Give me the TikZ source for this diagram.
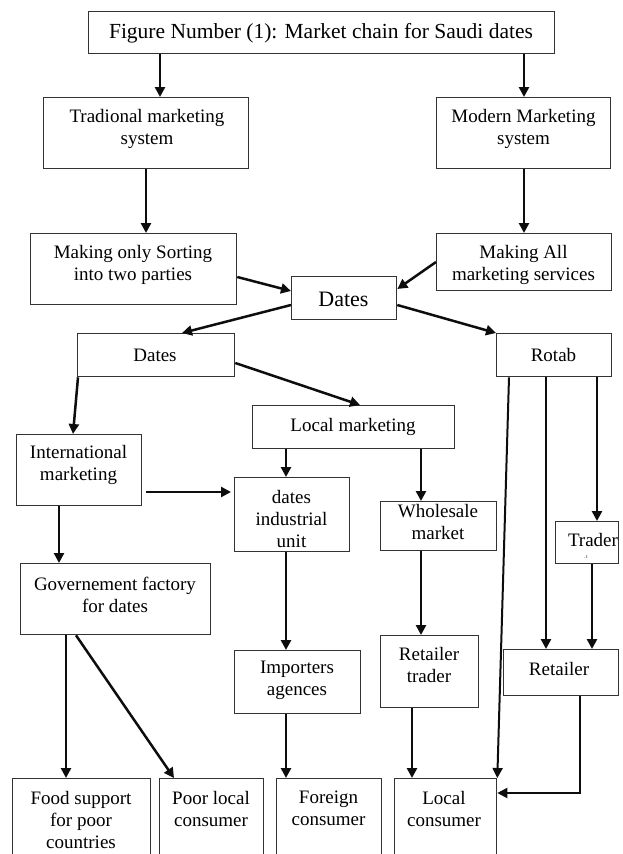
\documentclass[tikz,border=0pt]{standalone}
\usepackage{fontspec}
\setmainfont{Liberation Serif}
\usetikzlibrary{arrows.meta}
\begin{document}
\begin{tikzpicture}[x=1pt,y=-1pt,
  box/.style={draw=black!80, line width=1.3pt, inner sep=0pt, anchor=north west},
  txt/.style={align=center, inner sep=0pt, text=black, font=\fontsize{19}{22}\selectfont},
  arr/.style={draw=black!95, line width=2.5pt, -{Triangle[length=10pt,width=10pt]}}]
\useasboundingbox (0,0) rectangle (623,854);
\clip (0,0) rectangle (623,854);
% boxes
\node[box, minimum width=466, minimum height=42] (title) at (88,11) {};
\node[box, minimum width=205, minimum height=71] (trad) at (43,97) {};
\node[box, minimum width=174, minimum height=71] (modern) at (436,97) {};
\node[box, minimum width=206, minimum height=71] (sort) at (30,233) {};
\node[box, minimum width=175, minimum height=57] (allsvc) at (436,233) {};
\node[box, minimum width=105, minimum height=43] (dates) at (291,276) {};
\node[box, minimum width=157, minimum height=43] (dates2) at (77,333) {};
\node[box, minimum width=115, minimum height=43] (rotab) at (496,333) {};
\node[box, minimum width=202, minimum height=43] (local) at (252,405) {};
\node[box, minimum width=125, minimum height=71] (intl) at (16,434) {};
\node[box, minimum width=115, minimum height=74] (ind) at (234,477) {};
\node[box, minimum width=116, minimum height=49] (whole) at (380,501) {};
\node[box, minimum width=63, minimum height=42] (trader) at (555,521) {};
\node[box, minimum width=190, minimum height=71] (gov) at (20,563) {};
\node[box, minimum width=126, minimum height=63] (imp) at (234,650) {};
\node[box, minimum width=98, minimum height=72] (rtrader) at (380,635) {};
\node[box, minimum width=115, minimum height=46] (retailer) at (503,649) {};
\node[box, minimum width=138, minimum height=100] (food) at (12,778) {};
\node[box, minimum width=104, minimum height=100] (poor) at (159,778) {};
\node[box, minimum width=105, minimum height=100] (foreign) at (276,778) {};
\node[box, minimum width=102, minimum height=100] (lcons) at (394,778) {};
% texts
\node[txt, font=\fontsize{21.5}{24}\selectfont] (title-t) at (321,33.5) {Figure Number (1): Market chain for Saudi dates};
\node[txt] (trad-t) at (147,128.5) {Tradional marketing\\system};
\node[txt] (modern-t) at (523.5,128.5) {Modern Marketing\\system};
\node[txt] (sort-t) at (133,265) {Making only Sorting\\into two parties};
\node[txt] (allsvc-t) at (523.5,265) {Making All\\marketing services};
\node[txt, font=\fontsize{22}{24}\selectfont] (dates-t) at (343.5,299) {Dates};
\node[txt] (dates2-t) at (155,355) {Dates};
\node[txt] (rotab-t) at (553.5,355) {Rotab};
\node[txt] (local-t) at (353,427) {Local marketing};
\node[txt] (intl-t) at (78.5,464.5) {International\\marketing};
\node[txt] (ind-t) at (291.5,519) {dates\\industrial\\unit};
\node[txt] (whole-t) at (438,522) {Wholesale\\market};
\node[txt] (trader-t) at (593,540) {Trader};
\node[txt, font=\fontsize{5}{6}\selectfont] (trader-m) at (586,557) {.\,t};
\node[txt] (gov-t) at (115,594.5) {Governement factory\\for dates};
\node[txt] (imp-t) at (297,680.5) {Importers\\agences};
\node[txt] (rtrader-t) at (429,665) {Retailer\\trader};
\node[txt] (retailer-t) at (559,668.5) {Retailer};
\node[txt] (food-t) at (81,820) {Food support\\for poor\\countries};
\node[txt] (poor-t) at (211,808.5) {Poor local\\consumer};
\node[txt] (foreign-t) at (328.5,808.5) {Foreign\\consumer};
\node[txt] (lcons-t) at (444,808.5) {Local\\consumer};
% connectors
\draw[arr] (title.south -| 160,0) -- (trad.north -| 160,0);
\draw[arr] (title.south -| 524,0) -- (modern.north -| 524,0);
\draw[arr] (trad.south -| 146,0) -- (sort.north -| 146,0);
\draw[arr] (modern.south -| 524,0) -- (allsvc.north -| 524,0);
\draw[arr] (sort.east |- 0,277) -- (dates.west |- 0,291);
\draw[arr] (allsvc.west |- 0,262) -- (dates.east |- 0,289);
\draw[arr] (dates.west |- 0,305) -- (dates2.north -| 182,0);
\draw[arr] (dates.east |- 0,305) -- (rotab.north west);
\draw[arr] (dates2.south -| 78,0) -- (intl.north -| 73,0);
\draw[arr] (dates2.east |- 0,363) -- (local.north -| 360,0);
\draw[arr, line width=2pt] (rotab.south -| 509,0) -- (lcons.north east);
\draw[arr] (rotab.south -| 546,0) -- (retailer.north -| 546,0);
\draw[arr] (rotab.south -| 597,0) -- (trader.north -| 597,0);
\draw[arr] (local.south -| 286,0) -- (ind.north -| 286,0);
\draw[arr] (local.south -| 421,0) -- (whole.north -| 421,0);
\draw[arr, shorten <=4pt, shorten >=3pt] (intl.east |- 0,492) -- (ind.west |- 0,492);
\draw[arr] (intl.south -| 59,0) -- (gov.north -| 59,0);
\draw[arr] (ind.south -| 286,0) -- (imp.north -| 286,0);
\draw[arr] (whole.south -| 421,0) -- (rtrader.north -| 421,0);
\draw[arr] (trader.south -| 592,0) -- (retailer.north -| 592,0);
\draw[arr, line width=2pt] (retailer.south -| 580,0) |- (lcons.east |- 0,793);
\draw[arr] (gov.south -| 66,0) -- (food.north -| 66,0);
\draw[arr] (gov.south -| 76,0) -- (poor.north -| 174,0);
\draw[arr] (imp.south -| 286,0) -- (foreign.north -| 286,0);
\draw[arr] (rtrader.south -| 412,0) -- (lcons.north -| 412,0);
\end{tikzpicture}
\end{document}
